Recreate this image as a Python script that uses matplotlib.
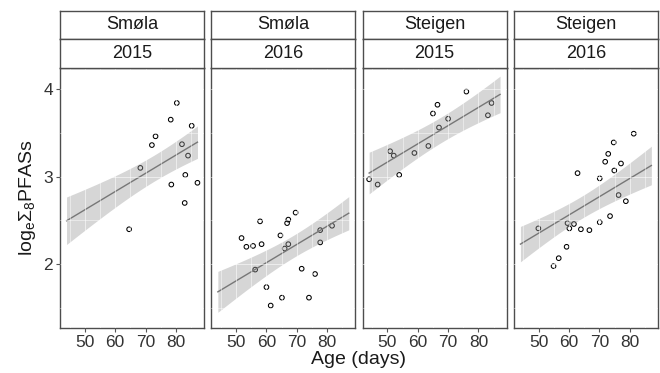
import numpy as np
import matplotlib
matplotlib.use('Agg')
import matplotlib.pyplot as plt
from matplotlib.ticker import MultipleLocator

plt.rcParams['font.family'] = ['Liberation Sans', 'DejaVu Sans']
plt.rcParams['mathtext.fontset'] = 'custom'
plt.rcParams['mathtext.rm'] = 'Liberation Sans'
plt.rcParams['mathtext.it'] = 'Liberation Sans'

# Facet labels
sites = ['Smøla', 'Smøla', 'Steigen', 'Steigen']
years = ['2015', '2016', '2015', '2016']

# Age (days) and log-sum PFAS per facet
age_smola15 = [80.3, 78.3, 85.2, 73.3, 72.1, 82.0, 84.0, 68.3, 83.1, 78.5, 87.1, 82.9, 64.6]
pfas_smola15 = [3.84, 3.65, 3.58, 3.46, 3.36, 3.37, 3.24, 3.10, 3.02, 2.91, 2.93, 2.70, 2.40]

age_smola16 = [69.6, 67.2, 66.8, 57.9, 51.8, 64.6, 53.4, 55.6, 58.4, 67.2, 66.0,
               77.7, 81.6, 77.7, 56.3, 71.6, 76.0, 60.0, 65.1, 74.0, 61.4]
pfas_smola16 = [2.59, 2.51, 2.47, 2.49, 2.30, 2.33, 2.20, 2.21, 2.23, 2.23, 2.18,
                2.39, 2.44, 2.25, 1.94, 1.95, 1.89, 1.74, 1.62, 1.62, 1.53]

age_steigen15 = [76.0, 66.5, 65.0, 84.3, 83.1, 70.0, 67.0, 63.5, 58.9, 50.9, 52.1, 53.9, 44.0, 46.8]
pfas_steigen15 = [3.97, 3.82, 3.72, 3.84, 3.70, 3.66, 3.56, 3.35, 3.27, 3.29, 3.24, 3.02, 2.97, 2.91]

age_steigen16 = [81.3, 74.7, 72.9, 71.9, 77.1, 74.9, 62.8, 70.1, 76.3, 78.7, 73.5,
                 70.1, 49.9, 59.5, 61.6, 60.1, 63.9, 66.7, 59.2, 56.6, 54.9]
pfas_steigen16 = [3.49, 3.39, 3.26, 3.17, 3.15, 3.07, 3.04, 2.98, 2.79, 2.72, 2.55,
                  2.48, 2.41, 2.47, 2.46, 2.41, 2.40, 2.39, 2.20, 2.07, 1.98]

ages = [age_smola15, age_smola16, age_steigen15, age_steigen16]
pfas = [pfas_smola15, pfas_smola16, pfas_steigen15, pfas_steigen16]


# Additive model: pfas ~ site + year + age, 95% CI for the mean
def design_row(g, a):
    return [1.0, float(sites[g] == 'Steigen'), float(years[g] == '2016'), a]


rows, yall = [], []
for g in range(len(ages)):
    for a, v in zip(ages[g], pfas[g]):
        rows.append(design_row(g, a))
        yall.append(v)
X = np.array(rows)
yall = np.array(yall)
beta, *_ = np.linalg.lstsq(X, yall, rcond=None)
df_res = len(yall) - X.shape[1]
s2 = np.sum((yall - X @ beta) ** 2) / df_res
cov = s2 * np.linalg.inv(X.T @ X)
t975 = 1.997  # t quantile, ~65 residual df

all_age = np.concatenate(ages)
grid = np.linspace(all_age.min(), all_age.max(), 80)
xpad = 0.05 * (all_age.max() - all_age.min())
xlim = (all_age.min() - xpad, all_age.max() + xpad)
ylim = (1.274, 4.239)


def band(g):
    C = np.array([design_row(g, a) for a in grid])
    fit = C @ beta
    se = np.sqrt(np.einsum('ij,jk,ik->i', C, cov, C))
    return fit, fit - t975 * se, fit + t975 * se


W, H = 660, 373
fig = plt.figure(figsize=(6.6, 3.73), dpi=100)

lefts = [60, 211.3, 362.6, 513.9]
pw = 144
top, bottom = 68, 328
strip_h = 28.7
edge = '#4d4d4d'

for i in range(4):
    ax = fig.add_axes([lefts[i] / W, 1 - bottom / H, pw / W, (bottom - top) / H])
    ax.scatter(ages[i], pfas[i], s=11, facecolors='none', edgecolors='black',
               linewidths=0.75, zorder=1)
    fit, lo, hi = band(i)
    ax.fill_between(grid, lo, hi, color='#999999', alpha=0.4, lw=0, zorder=1.5)
    ax.plot(grid, fit, color='#777777', lw=1.0, zorder=2)

    ax.set_xlim(xlim)
    ax.set_ylim(ylim)
    ax.xaxis.set_major_locator(MultipleLocator(10))
    ax.xaxis.set_minor_locator(MultipleLocator(5))
    ax.yaxis.set_major_locator(MultipleLocator(1))
    ax.yaxis.set_minor_locator(MultipleLocator(0.5))
    # white grid drawn on top, only visible over the ribbon
    ax.set_axisbelow(False)
    ax.grid(which='major', color='white', lw=0.5, alpha=0.8)
    ax.grid(which='minor', color='white', lw=0.4, alpha=0.8)
    ax.tick_params(which='minor', length=0)
    ax.tick_params(which='major', length=3, width=0.8, color='#555555',
                   labelsize=12.5, labelcolor='#333333', pad=2)
    if i > 0:
        ax.tick_params(axis='y', length=0, labelleft=False)
    for sp in ax.spines.values():
        sp.set_color(edge)
        sp.set_linewidth(1.0)

    for j, label in enumerate([sites[i], years[i]]):
        y0 = top - strip_h * (2 - j)
        sax = fig.add_axes([lefts[i] / W, 1 - (y0 + strip_h) / H, pw / W, strip_h / H])
        sax.set_xticks([])
        sax.set_yticks([])
        sax.set_facecolor('white')
        for sp in sax.spines.values():
            sp.set_color(edge)
            sp.set_linewidth(1.0)
        sax.text(0.5, 0.5, label, ha='center', va='center', fontsize=13,
                 color='#1a1a1a', transform=sax.transAxes)

fig.text((lefts[0] + lefts[3] + pw) / 2 / W, 1 - 360 / H, 'Age (days)',
         ha='center', va='center', fontsize=14, color='#1a1a1a')
fig.text(27 / W, 1 - ((top + bottom) / 2) / H,
         r'$\mathrm{log_e}\Sigma_8\mathrm{PFASs}$',
         ha='center', va='center', rotation=90, fontsize=14, color='#1a1a1a')

fig.savefig('out.png', dpi=100)
